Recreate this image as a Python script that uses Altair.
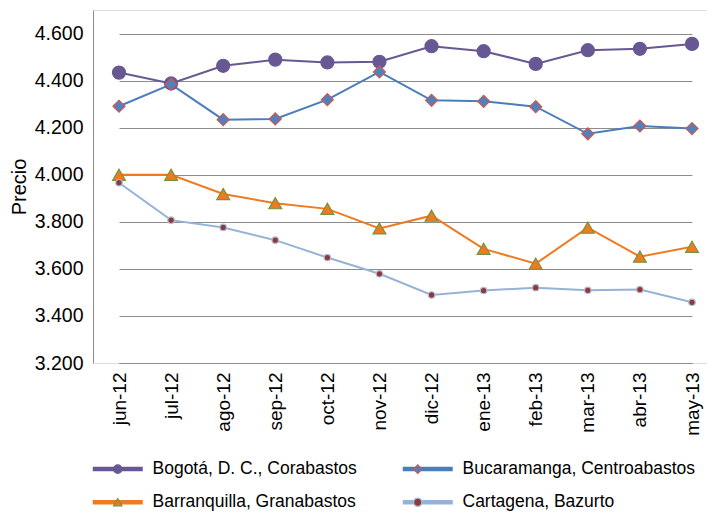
import altair as alt
import pandas as pd

months = ["jun-12", "jul-12", "ago-12", "sep-12", "oct-12", "nov-12",
          "dic-12", "ene-13", "feb-13", "mar-13", "abr-13", "may-13"]

series_names = ["Bogotá, D. C., Corabastos", "Bucaramanga, Centroabastos",
                "Barranquilla, Granabastos", "Cartagena, Bazurto"]

bogota = [4434, 4388, 4463, 4489, 4477, 4480, 4546, 4525, 4471, 4529, 4535, 4556]
bucaramanga = [4291, 4384, 4234, 4237, 4319, 4437, 4316, 4312, 4289, 4174, 4207, 4196]
barranquilla = [4000, 4000, 3918, 3879, 3855, 3772, 3826, 3685, 3622, 3775, 3652, 3694]
cartagena = [3966, 3807, 3776, 3722, 3648, 3579, 3489, 3508, 3520, 3509, 3512, 3458]

y_ticks = [3200, 3400, 3600, 3800, 4000, 4200, 4400, 4600]

line_colors = ["#675893", "#4a7ebb", "#f07a20", "#95b3d7"]
fill_colors = ["#675893", "#4f81bd", "#f07a20", "#953735"]
stroke_colors = ["#675893", "#d0554f", "#77933c", "#a8c0e0"]
shapes = ["circle", "diamond", "triangle-up", "circle"]
marker_sizes = [170, 144, 165, 42]

# marker series keys (zero-width suffix keeps the marker legend separate from the line legend)
marker_names = [n + "\u200b" for n in series_names]

rows = []
for name, mname, msize, vals in zip(series_names, marker_names, marker_sizes,
                                    [bogota, bucaramanga, barranquilla, cartagena]):
    for m, v in zip(months, vals):
        rows.append({"mes": m, "precio": v, "serie": name, "serie_m": mname,
                     "msize": msize})
df = pd.DataFrame(rows)

FONT = "Liberation Sans"
LEG_Y = 450
ROW_PAD = 14.5
COL_PAD = 36

x_enc = alt.X("mes:N", sort=months,
              scale=alt.Scale(type="point", padding=0, range=[26, 599]),
              axis=alt.Axis(title=None, labelAngle=270, ticks=False, labelPadding=9,
                            labelFontSize=19, labelColor="#000000", labelFont=FONT,
                            domainColor="#8c8c8c", grid=False, labelBaseline="middle"))
y_enc = alt.Y("precio:Q",
              scale=alt.Scale(domain=[3200, 4700], zero=False, nice=False),
              axis=alt.Axis(title="Precio", values=y_ticks, ticks=False, labelPadding=10,
                            labelExpr="replace(format(datum.value, ','), ',', '.')",
                            labelFontSize=19.5, labelColor="#000000", labelFont=FONT,
                            titleFontSize=20, titleFontWeight="normal", titleFont=FONT,
                            titleColor="#000000", titlePadding=5,
                            grid=True, gridColor="#8c8c8c", domainColor="#8c8c8c"))

common_leg = dict(title=None, orient="none", legendX=0, legendY=LEG_Y,
                  columns=2, direction="horizontal", columnPadding=COL_PAD,
                  rowPadding=ROW_PAD, labelOffset=26, symbolOffset=16,
                  labelFontSize=17.5, labelFont=FONT,
                  labelColor="#000000", padding=0, labelLimit=400)

lines = alt.Chart(df).mark_line(strokeWidth=2).encode(
    x=x_enc, y=y_enc,
    color=alt.Color("serie:N", sort=series_names,
                    scale=alt.Scale(range=line_colors),
                    legend=alt.Legend(symbolType="M-5,0H5", symbolStrokeWidth=4.5,
                                      symbolSize=100, **common_leg)),
    detail="serie:N",
)

legend_m = alt.Legend(symbolStrokeWidth=1.2, labelOpacity=0, symbolSize=70,
                      symbolOpacity=1, **common_leg)

points = alt.Chart(df).mark_point(filled=True, strokeWidth=1.2, opacity=1).encode(
    x=x_enc, y=y_enc,
    shape=alt.Shape("serie_m:N", sort=marker_names,
                    scale=alt.Scale(domain=marker_names, range=shapes), legend=legend_m),
    fill=alt.Fill("serie_m:N", sort=marker_names,
                  scale=alt.Scale(domain=marker_names, range=fill_colors), legend=legend_m),
    stroke=alt.Stroke("serie_m:N", sort=marker_names,
                      scale=alt.Scale(domain=marker_names, range=stroke_colors), legend=legend_m),
    size=alt.Size("msize:Q", scale=None),
)

chart = alt.layer(lines, points).properties(
    width=614, height=353,
    autosize=alt.AutoSizeParams(type="none"),
    padding={"left": 85, "top": 2, "right": 0, "bottom": 151},
).configure_view(stroke=None).configure(background="#ffffff")

chart.save("out.html", embed_options={"renderer": "svg", "actions": False})
